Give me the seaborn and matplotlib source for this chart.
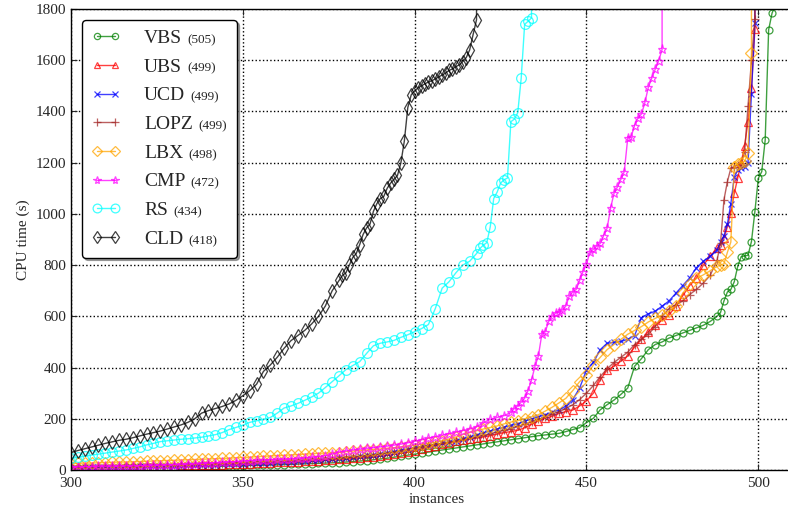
import matplotlib
matplotlib.use("Agg")
import matplotlib.pyplot as plt
import seaborn as sns
from matplotlib.offsetbox import HPacker, TextArea

# Solvers and number of solved instances (legend order)
solvers = ["VBS", "UBS", "UCD", "LOPZ", "LBX", "CMP", "RS", "CLD"]
solved = [505, 499, 499, 499, 498, 472, 434, 418]

# Instance indices
n_step2 = list(range(300, 489, 2))

# CPU times (s); last value = past the timeout
vbs_n = n_step2 + list(range(489, 506))
vbs_t = [7, 7, 8, 8, 8, 9, 9, 9, 10, 10,
         10, 11, 11, 11, 12, 12, 12, 13, 13, 14,
         14, 15, 15, 16, 16, 17, 18, 18, 19, 20,
         20, 21, 22, 23, 24, 25, 26, 27, 28, 29,
         31, 33, 35, 37, 40, 43, 46, 50, 54, 58,
         62, 66, 70, 74, 78, 82, 86, 90, 94, 98,
         102, 106, 110, 114, 118, 122, 126, 130, 134, 137,
         140, 143, 150, 158, 165, 185, 202, 235, 255, 273,
         295, 320, 405, 435, 470, 490, 500, 515, 525, 535,
         545, 555, 565, 580, 600,
         615, 660, 695, 705, 735, 795, 833, 836, 838, 892,
         1009, 1139, 1165, 1289, 1719, 1784, 1816]

ubs_n = n_step2 + list(range(489, 500)) + [499]
ubs_t = [10, 10, 11, 11, 12, 12, 13, 13, 14, 14,
         15, 15, 16, 16, 17, 17, 18, 18, 19, 19,
         20, 21, 21, 22, 23, 24, 25, 26, 27, 28,
         30, 31, 32, 33, 35, 36, 37, 38, 40, 41,
         43, 45, 47, 49, 51, 54, 57, 61, 65, 70,
         75, 82, 88, 94, 100, 106, 112, 117, 121, 125,
         129, 134, 140, 146, 150, 155, 165, 178, 192, 202,
         210, 221, 228, 234, 250, 270, 300, 352, 390, 405,
         425, 445, 480, 510, 540, 565, 585, 605, 640, 680,
         720, 750, 800, 835, 865,
         880, 905, 950, 1005, 1080, 1140, 1200, 1265, 1360, 1490, 1720, 3600]

ucd_n = n_step2 + list(range(489, 500)) + [499]
ucd_t = [9, 9, 10, 10, 11, 11, 12, 12, 13, 13,
         14, 14, 15, 15, 16, 17, 17, 18, 19, 19,
         20, 21, 22, 23, 24, 25, 26, 27, 28, 29,
         30, 32, 33, 35, 36, 38, 40, 42, 44, 46,
         48, 51, 54, 57, 60, 64, 68, 72, 77, 82,
         88, 92, 96, 100, 104, 109, 114, 121, 128, 136,
         145, 152, 160, 167, 174, 180, 190, 200, 208, 215,
         225, 235, 250, 275, 320, 390, 420, 470, 495, 498,
         502, 510, 525, 595, 610, 620, 640, 660, 690, 720,
         750, 790, 815, 835, 860,
         890, 915, 960, 1040, 1145, 1172, 1178, 1185, 1198, 1470, 1745, 3600]

lopz_n = n_step2 + list(range(489, 500)) + [499]
lopz_t = [12, 12, 13, 13, 14, 14, 15, 15, 16, 16,
          17, 17, 18, 19, 19, 20, 21, 21, 22, 23,
          23, 24, 25, 26, 27, 28, 29, 30, 31, 32,
          33, 35, 36, 37, 39, 40, 42, 43, 45, 47,
          49, 51, 53, 56, 59, 62, 66, 70, 75, 80,
          86, 91, 96, 100, 104, 109, 113, 118, 123, 129,
          135, 141, 148, 155, 162, 170, 178, 188, 198, 208,
          218, 228, 240, 255, 275, 300, 330, 365, 395, 420,
          440, 460, 490, 510, 530, 560, 600, 630, 645, 660,
          685, 705, 730, 760, 820,
          885, 1055, 1126, 1178, 1185, 1190, 1200, 1240, 1420, 1600, 1760, 3600]

lbx_n = n_step2 + list(range(489, 499)) + [498]
lbx_t = [25, 26, 27, 27, 28, 29, 30, 31, 31, 32,
         33, 34, 35, 36, 37, 38, 39, 40, 41, 42,
         43, 44, 45, 46, 48, 49, 50, 52, 53, 55,
         56, 57, 59, 60, 62, 63, 65, 66, 67, 68,
         72, 74, 76, 78, 80, 82, 85, 87, 90, 93,
         96, 100, 104, 108, 114, 121, 129, 138, 146, 153,
         160, 166, 172, 180, 187, 193, 200, 208, 216, 230,
         245, 262, 280, 310, 345, 370, 410, 440, 470, 490,
         510, 530, 545, 560, 578, 592, 605, 620, 640, 690,
         725, 748, 762, 778, 795,
         800, 805, 850, 890, 1185, 1195, 1200, 1205, 1237, 1630, 3600]

cmp_n = list(range(300, 429, 2)) + list(range(429, 473)) + [472]
cmp_t = [12, 12, 13, 13, 14, 14, 15, 15, 16, 16,
         17, 18, 18, 19, 20, 21, 22, 23, 24, 26,
         27, 28, 30, 31, 33, 35, 37, 38, 39, 40,
         41, 42, 43, 45, 47, 49, 52, 56, 62, 70,
         74, 78, 81, 84, 87, 90, 93, 97, 101, 106,
         112, 118, 124, 130, 136, 142, 148, 154, 160, 168,
         185, 198, 205, 212, 225,
         240, 250, 265, 280, 310, 350, 405, 445, 530, 540,
         580, 600, 612, 618, 625, 640, 680, 695, 705, 740,
         775, 805, 850, 862, 875, 885, 915, 944, 1022, 1080,
         1105, 1135, 1165, 1296, 1302, 1345, 1375, 1390, 1435, 1495,
         1530, 1565, 1598, 1642, 3600]

rs_n = list(range(300, 419, 2)) + list(range(419, 435)) + [434]
rs_t = [46, 50, 54, 58, 62, 66, 70, 74, 78, 84,
        90, 98, 104, 111, 114, 117, 120, 122, 125, 128,
        133, 138, 146, 158, 166, 175, 186, 192, 198, 205,
        222, 242, 250, 260, 272, 285, 300, 322, 345, 368,
        392, 408, 423, 455, 485, 495, 500, 506, 518, 528,
        540, 552, 568, 630, 710, 735, 770, 800, 815, 845,
        865, 878, 888, 950, 1060, 1085, 1120, 1133, 1140, 1360,
        1370, 1395, 1530, 1740, 1752, 1765, 3600]

cld_n = list(range(300, 379, 2)) + list(range(379, 419)) + [418]
cld_t = [68, 76, 83, 90, 97, 104, 110, 116, 120, 126,
         133, 140, 146, 152, 160, 168, 176, 186, 200, 222,
         232, 240, 248, 258, 272, 290, 310, 335, 385, 410,
         440, 475, 505, 525, 545, 570, 600, 640, 700, 740,
         760, 770, 800, 830, 845, 880, 920, 945, 960, 1010,
         1040, 1060, 1068, 1100, 1120, 1135, 1150, 1200, 1285, 1415,
         1465, 1480, 1492, 1500, 1508, 1515, 1520, 1527, 1535, 1542,
         1550, 1560, 1566, 1575, 1582, 1595, 1610, 1640, 1700, 1758,
         3600]

series_n = [vbs_n, ubs_n, ucd_n, lopz_n, lbx_n, cmp_n, rs_n, cld_n]
series_t = [vbs_t, ubs_t, ucd_t, lopz_t, lbx_t, cmp_t, rs_t, cld_t]
colors = ["green", "red", "blue", "brown", "orange", "magenta", "cyan", "black"]
markers = ["o", "^", "x", "+", "D", "*", "o", "d"]
msizes = [5, 5.5, 5, 6, 6, 6.5, 7, 7]

sns.set_style("ticks")
plt.rcParams["font.family"] = ["Liberation Serif", "DejaVu Serif"]

fig = plt.figure(figsize=(7.88, 5.16), dpi=100)
ax = fig.add_axes([71 / 788, 46 / 516, 732 / 788, 461 / 516])

for name, n, t, c, m, ms in zip(solvers, series_n, series_t, colors, markers, msizes):
    sns.lineplot(x=n, y=t, ax=ax, color=c, marker=m, markersize=ms,
                 mfc="none", mec=c, mew=0.9, lw=1, alpha=0.75,
                 estimator=None, sort=False, legend=False, label=name)

ax.set_xlim(300, 513)
ax.set_ylim(0, 1800)
ax.set_xticks([300, 350, 400, 450, 500])
ax.set_yticks(range(0, 1801, 200))
ax.grid(True, ls=":", color="black", lw=1)
ax.tick_params(direction="in", top=True, right=True, length=4, labelsize=11)
ax.tick_params(axis="x", pad=5)
for s in ax.spines.values():
    s.set_color("black")
    s.set_linewidth(1)
ax.set_xlabel("instances", fontsize=11, labelpad=2)
ax.set_ylabel("CPU time (s)", fontsize=11)

leg = ax.legend(loc="upper left", numpoints=2, fontsize=14, fancybox=True,
                shadow=True, framealpha=1, edgecolor="black", markerscale=0.9,
                handlelength=1.5, handletextpad=1.2, labelspacing=0.57,
                borderpad=0.5, borderaxespad=0.55)
leg.get_frame().set_linewidth(1)

# smaller "(count)" after each solver name
counts = dict(zip(solvers, solved))
for col in leg._legend_handle_box.get_children():
    for row in col.get_children():
        kids = row.get_children()
        name = kids[1].get_text()
        small = TextArea(f"({counts[name]})", textprops=dict(fontsize=9.5))
        box = HPacker(children=[kids[1], small], pad=0, sep=4, align="baseline")
        box.set_figure(fig)
        kids[1] = box

fig.savefig("out.png", dpi=100)
